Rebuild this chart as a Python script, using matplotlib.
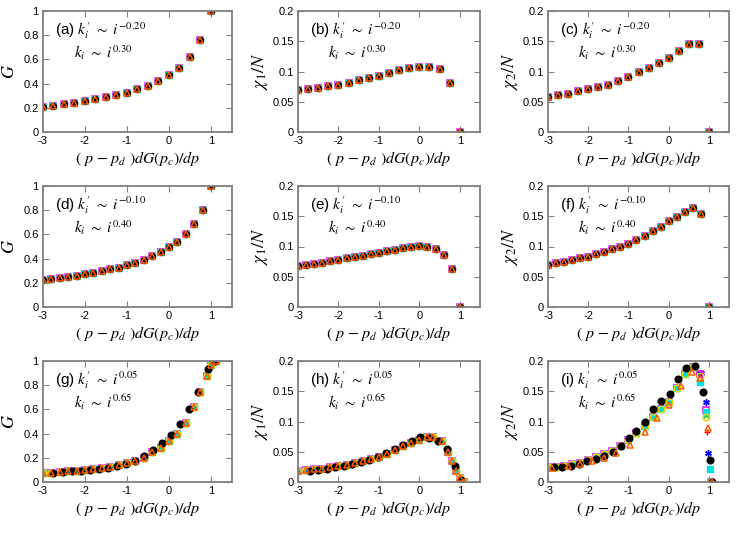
import matplotlib
matplotlib.use("Agg")
import matplotlib.pyplot as plt
import numpy as np

plt.rcParams['font.family'] = ['Liberation Sans', 'DejaVu Sans']
plt.rcParams['mathtext.fontset'] = 'stix'

# ---- data: rows 1 and 2 (all system sizes collapse onto one set of points) ----
x_row1 = [-3, -2.75, -2.5, -2.25, -2, -1.75, -1.5, -1.25, -1, -0.75, -0.5, -0.25, 0, 0.25, 0.5, 0.75, 1]
G_a = [0.208, 0.219, 0.230, 0.242, 0.256, 0.270, 0.286, 0.303, 0.325, 0.353, 0.383, 0.422, 0.469, 0.533, 0.622, 0.758, 1.0]
chi1_b = [0.069, 0.0706, 0.0728, 0.0756, 0.078, 0.0817, 0.0856, 0.089, 0.0933, 0.0978, 0.1017, 0.105, 0.1078, 0.108, 0.104, 0.0817, 0.0]
chi2_c = [0.058, 0.061, 0.063, 0.067, 0.071, 0.074, 0.078, 0.085, 0.091, 0.099, 0.105, 0.114, 0.123, 0.134, 0.146, 0.146, 0.0]

x_row2 = [-3, -2.8, -2.6, -2.4, -2.2, -2, -1.8, -1.6, -1.4, -1.2, -1, -0.8, -0.6, -0.4, -0.2, 0, 0.2, 0.4, 0.6, 0.8, 1]
G_d = [0.227, 0.235, 0.243, 0.251, 0.260, 0.271, 0.285, 0.298, 0.312, 0.326, 0.343, 0.367, 0.392, 0.420, 0.453,
       0.492, 0.541, 0.605, 0.685, 0.798, 1.0]
chi1_e = [0.0678, 0.0694, 0.0717, 0.0733, 0.0756, 0.0778, 0.0806, 0.0828, 0.085, 0.0878, 0.09, 0.0928, 0.095,
          0.0967, 0.0989, 0.1006, 0.100, 0.0961, 0.0856, 0.0628, 0.0]
chi2_f = [0.069, 0.072, 0.075, 0.078, 0.081, 0.083, 0.087, 0.091, 0.096, 0.099, 0.104, 0.110, 0.117, 0.125, 0.133,
          0.142, 0.149, 0.157, 0.163, 0.154, 0.0]

# ---- data: row 3 ----
x_g = [-3, -2.8, -2.6, -2.4, -2.2, -2, -1.8, -1.6, -1.4, -1.2, -1, -0.8, -0.6, -0.4, -0.2, 0, 0.2, 0.4, 0.6, 0.75, 0.9, 1.0, 1.12]
G_g = [0.072, 0.077, 0.082, 0.087, 0.093, 0.100, 0.107, 0.116, 0.127, 0.140, 0.155, 0.173, 0.200, 0.245, 0.285,
       0.335, 0.400, 0.490, 0.620, 0.740, 0.880, 0.970, 1.0]
xk_g = [-2.75, -2.53, -2.32, -2.1, -1.89, -1.67, -1.46, -1.24, -1.03, -0.81, -0.6, -0.38, -0.17, 0.05, 0.27, 0.48, 0.7, 0.92, 1.1]
Gk_g = [0.078, 0.082, 0.087, 0.093, 0.100, 0.108, 0.118, 0.130, 0.145, 0.172, 0.215, 0.267, 0.320, 0.388, 0.482,
        0.606, 0.744, 0.930, 1.0]

x_h = [-3, -2.8, -2.6, -2.4, -2.2, -2, -1.8, -1.6, -1.4, -1.2, -1, -0.8, -0.6, -0.4, -0.2, 0, 0.2, 0.35, 0.55, 0.7, 0.8, 0.9, 1.0, 1.1]
chi1_h = [0.019, 0.020, 0.021, 0.022, 0.024, 0.026, 0.028, 0.031, 0.034, 0.038, 0.042, 0.047, 0.053, 0.059, 0.065,
          0.070, 0.074, 0.075, 0.068, 0.050, 0.035, 0.018, 0.006, 0.0]
xk_h = [-2.71, -2.5, -2.29, -2.08, -1.87, -1.66, -1.45, -1.24, -1.03, -0.82, -0.61, -0.4, -0.19, 0.02, 0.25, 0.46, 0.68, 0.88, 1.02]
chi1k_h = [0.019, 0.020, 0.022, 0.024, 0.027, 0.030, 0.033, 0.037, 0.042, 0.048, 0.054, 0.061, 0.068, 0.074, 0.073,
           0.067, 0.054, 0.026, 0.003]

x_i = [-3, -2.8, -2.6, -2.4, -2.2, -2, -1.8, -1.6, -1.4, -1.2, -1, -0.8, -0.6, -0.4, -0.2, 0, 0.2, 0.4, 0.6]
chi2_i = [0.024, 0.025, 0.027, 0.029, 0.032, 0.036, 0.041, 0.046, 0.052, 0.060, 0.070, 0.081, 0.093, 0.107, 0.120,
          0.133, 0.155, 0.178, 0.190]
# separate tails of each size near the transition in (i)
tail_x_i = {'red': [0.75, 0.95, 1.05], 'green': [0.75, 0.93, 1.05], 'blue': [0.8, 0.93, 0.98, 1.05],
            'magenta': [0.78, 0.93, 1.05], 'cyan': [0.79, 0.94, 1.02, 1.06], 'yellow': [0.77, 0.93, 1.05]}
tail_y_i = {'red': [0.178, 0.083, 0.0], 'green': [0.178, 0.110, 0.0], 'blue': [0.180, 0.133, 0.048, 0.0],
            'magenta': [0.178, 0.119, 0.0], 'cyan': [0.165, 0.116, 0.021, 0.0], 'yellow': [0.176, 0.107, 0.0]}
xk_i = [-2.86, -2.65, -2.44, -2.23, -2.02, -1.81, -1.6, -1.39, -1.18, -0.99, -0.8, -0.59, -0.39, -0.18, 0.03, 0.23,
        0.44, 0.66, 0.86, 1.02, 1.08]
chi2k_i = [0.024, 0.024, 0.026, 0.030, 0.034, 0.038, 0.043, 0.050, 0.060, 0.073, 0.085, 0.100, 0.121, 0.134, 0.146,
           0.171, 0.189, 0.191, 0.149, 0.037, 0.0]
xt_i = [-2.9, -2.5, -2.2, -1.9, -1.6, -1.3, -0.95, -0.6, -0.3, 0.0, 0.3, 0.57, 0.78, 0.98, 1.08]
chi2t_i = [0.023, 0.026, 0.029, 0.034, 0.040, 0.048, 0.061, 0.082, 0.105, 0.128, 0.158, 0.182, 0.172, 0.090, 0.0]

exponents = [('-0.20', '0.30'), ('-0.10', '0.40'), ('0.05', '0.65')]
letters = ['a', 'b', 'c', 'd', 'e', 'f', 'g', 'h', 'i']

# gnuplot-like point styles: (name, marker, color, filled)
styles = [('red', '+', '#ff0000', True), ('green', 'x', '#00c000', True), ('blue', (6, 2, 0), '#0000ff', True),
          ('magenta', 's', '#ff00ff', False), ('cyan', 's', '#00e0e0', True), ('yellow', 'o', '#e8d800', False),
          ('black', 'o', '#000000', True), ('orange', '^', '#ff5a00', False)]


def draw(ax, x, y, name, marker, color, filled, ms=4.3):
    if filled:
        ax.plot(x, y, ls='none', marker=marker, ms=ms, color=color, mec=color, mew=1.0)
    else:
        ax.plot(x, y, ls='none', marker=marker, ms=ms, mfc='none', mec=color, mew=1.1)


fig = plt.figure(figsize=(7.47, 5.41), dpi=100)
lefts = [43 / 747, 298 / 747, 548 / 747]
widths = [189 / 747, 182 / 747, 181 / 747]
bottoms = [1 - 132 / 541, 1 - 307 / 541, 1 - 482 / 541]
height = 121 / 541

row_data = [(x_row1, [G_a, chi1_b, chi2_c]), (x_row2, [G_d, chi1_e, chi2_f])]
ylabels = [r'$G$', r'$\chi_1/N$', r'$\chi_2/N$']

for r in range(3):
    for c in range(3):
        ax = fig.add_axes([lefts[c], bottoms[r], widths[c], height])
        if r < 2:
            xs, ys = row_data[r][0], row_data[r][1][c]
            for name, m, col, f in styles:
                draw(ax, xs, ys, name, m, col, f)
        else:
            ms3 = 4.8
            if c == 0:
                for name, m, col, f in styles:
                    if name == 'black':
                        draw(ax, xk_g, Gk_g, name, m, col, f, ms3)
                    else:
                        draw(ax, x_g, G_g, name, m, col, f, ms3)
            elif c == 1:
                for name, m, col, f in styles:
                    if name == 'black':
                        draw(ax, xk_h, chi1k_h, name, m, col, f, ms3)
                    else:
                        draw(ax, x_h, chi1_h, name, m, col, f, ms3)
            else:
                for name, m, col, f in styles:
                    if name == 'black':
                        draw(ax, xk_i, chi2k_i, name, m, col, f, ms3)
                    elif name == 'orange':
                        draw(ax, xt_i, chi2t_i, name, m, col, f, ms3)
                    else:
                        draw(ax, x_i + tail_x_i[name], chi2_i + tail_y_i[name], name, m, col, f, ms3)

        ax.set_xlim(-3, 1.5)
        ax.set_xticks([-3, -2, -1, 0, 1])
        ax.set_xticklabels(['-3', '-2', '-1', '0', '1'])
        if c == 0:
            ax.set_ylim(0, 1)
            ax.set_yticks([0, 0.2, 0.4, 0.6, 0.8, 1.0])
            ax.set_yticklabels(['0', '0.2', '0.4', '0.6', '0.8', '1'])
        else:
            ax.set_ylim(0, 0.2)
            ax.set_yticks([0, 0.05, 0.1, 0.15, 0.2])
            ax.set_yticklabels(['0', '0.05', '0.1', '0.15', '0.2'])
        ax.tick_params(direction='in', top=True, right=True, length=4, width=0.8,
                       color='#808080', labelsize=8, pad=3)
        for s in ax.spines.values():
            s.set_color('#808080')
            s.set_linewidth(1.3)
        ax.set_xlabel(r'$(\ p\ \mathrm{-}\ p_d\ )dG(p_c)/dp$', fontsize=11.5, labelpad=2)
        ax.set_ylabel(ylabels[c], fontsize=13, labelpad=4 if c == 0 else 2)

        e1, e2 = exponents[r]
        ax.text(0.065, 0.80, '(%s) ' % letters[3 * r + c] + r'$k^{\prime}_{i}\ \sim\ i^{%s}$' % e1,
                transform=ax.transAxes, fontsize=11, va='baseline', ha='left')
        ax.text(0.165, 0.61, r'$k_{i}\ \sim\ i^{%s}$' % e2,
                transform=ax.transAxes, fontsize=11, va='baseline', ha='left')

fig.savefig('out.png', dpi=100)
